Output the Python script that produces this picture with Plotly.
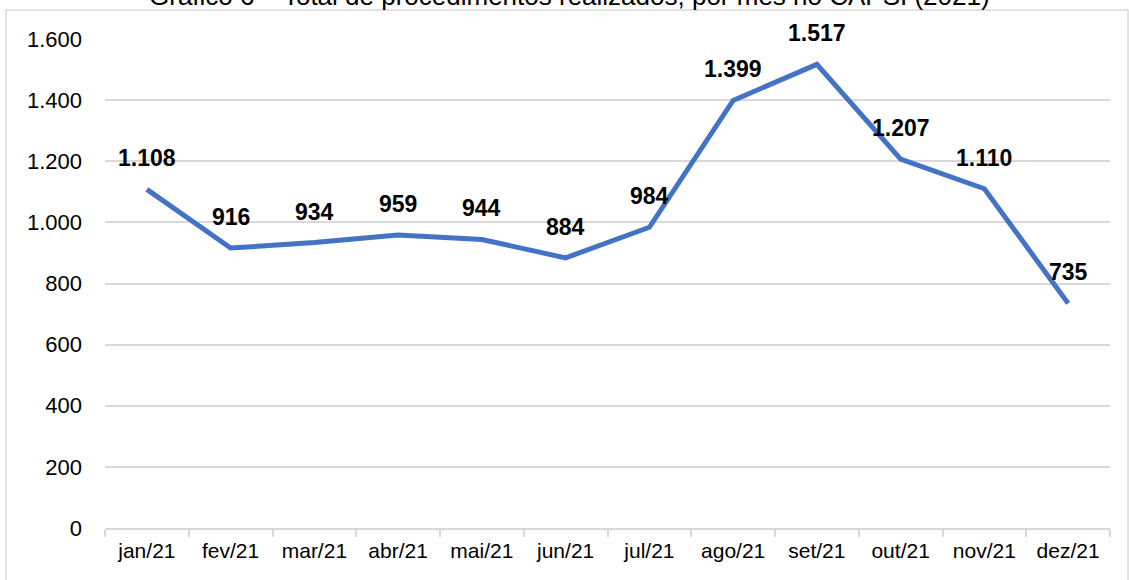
import plotly.graph_objects as go

months = ["jan/21", "fev/21", "mar/21", "abr/21", "mai/21", "jun/21",
          "jul/21", "ago/21", "set/21", "out/21", "nov/21", "dez/21"]
values = [1108, 916, 934, 959, 944, 884, 984, 1399, 1517, 1207, 1110, 735]
y_ticks = [0, 200, 400, 600, 800, 1000, 1200, 1400, 1600]
title_text = "Gráfico 6 – Total de procedimentos realizados, por mês no CAPSI (2021)"


def fmt(v):
    return f"{v:,}".replace(",", ".")


W, H = 1129, 580
L, R, T, B = 105, 19, 39, 52
pw, ph = W - L - R, H - T - B

FONT = "Liberation Sans, Arial, sans-serif"

fig = go.Figure()
fig.add_trace(go.Scatter(
    x=months, y=values, mode="lines",
    line=dict(color="#4472C4", width=5),
    hoverinfo="x+y", showlegend=False,
))

annotations = []
for m, v in zip(months, values):
    annotations.append(dict(
        x=m, y=v, xref="x", yref="y", text=fmt(v), showarrow=False,
        yshift=31, font=dict(family=FONT, size=23, color="#000000", weight="bold"),
    ))

annotations.append(dict(
    x=(569 - L) / pw, y=1 + (T - 13) / ph, xref="paper", yref="paper",
    text=title_text, showarrow=False, xanchor="center", yanchor="bottom",
    font=dict(family=FONT, size=26, color="#000000"),
))

fig.update_layout(
    width=W, height=H,
    margin=dict(l=L, r=R, t=T, b=B, pad=0),
    paper_bgcolor="white", plot_bgcolor="white",
    font=dict(family=FONT, size=21, color="#000000"),
    annotations=annotations,
    shapes=[dict(
        type="rect", xref="paper", yref="paper",
        x0=(6 - L) / pw, x1=(1128 - L) / pw,
        y0=-0.3, y1=1 + (T - 10) / ph,
        line=dict(color="#d9d9d9", width=1.5), fillcolor="rgba(0,0,0,0)", layer="below",
    )],
    xaxis=dict(
        type="category", range=[-0.5, len(months) - 0.5],
        showgrid=False, showline=True, linecolor="#d9d9d9", linewidth=1.5,
        ticks="outside", tickson="boundaries", ticklen=7, tickcolor="#d9d9d9", tickwidth=1.5,
        ticklabelstandoff=3,
        tickfont=dict(family=FONT, size=21, color="#000000"),
        zeroline=False,
    ),
    yaxis=dict(
        range=[0, 1600], tickvals=y_ticks, ticktext=[fmt(t) for t in y_ticks],
        showgrid=True, gridcolor="#d9d9d9", gridwidth=1.5, zeroline=False,
        showline=False, ticks="", ticklabelstandoff=22,
        tickfont=dict(family=FONT, size=22, color="#000000"),
    ),
)

fig.write_html("out.html", config={"displayModeBar": False},
               post_script="document.body.style.margin='0px';")
